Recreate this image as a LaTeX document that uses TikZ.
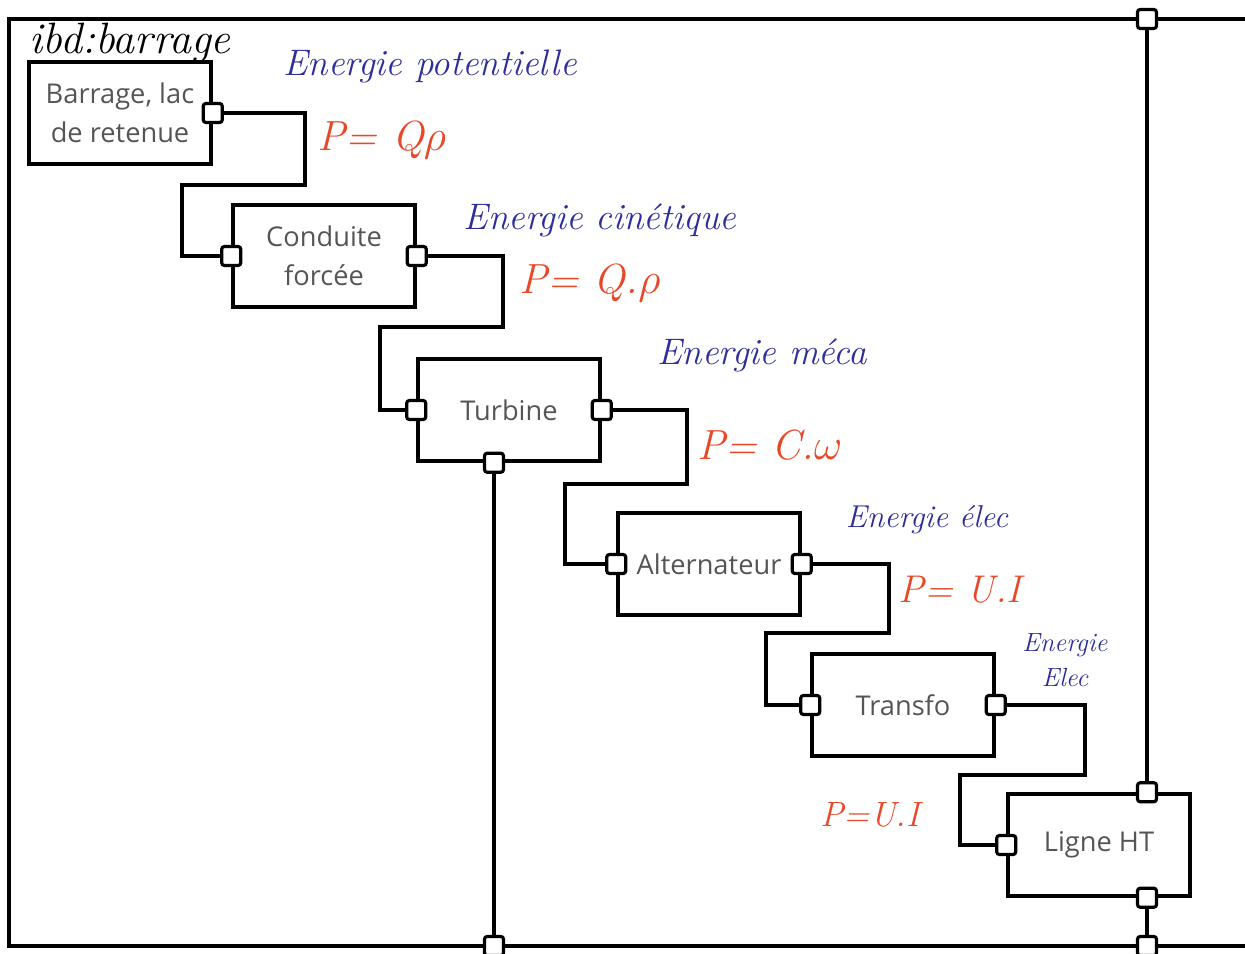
\documentclass[tikz,border=0pt]{standalone}
\usepackage{fontspec}
\setsansfont{Open Sans}
\usetikzlibrary{positioning,calc}
\definecolor{penblue}{RGB}{45,45,155}
\definecolor{penred}{RGB}{232,72,40}
\definecolor{blocktext}{RGB}{85,85,85}

\begin{document}
\begin{tikzpicture}[x=0.02cm,y=-0.02cm,
    block/.style={rectangle,draw,line width=2pt,minimum width=3.64cm,minimum height=2.04cm,align=center,text=blocktext,font=\sffamily\fontsize{15.5}{22}\selectfont,inner sep=0pt},
    port/.style={rectangle,draw,line width=1.8pt,fill=white,minimum size=0.38cm,inner sep=0pt,rounded corners=1.5pt},
    link/.style={line width=2pt},
    hand/.style={font=\itshape\fontsize{21}{24}\selectfont},
    energy/.style={hand,text=penblue},
    power/.style={hand,text=penred,font=\itshape\fontsize{24}{28}\selectfont}
]
\useasboundingbox (0,0) rectangle (1245,954);

% Frame of the ibd
\draw[link] (1245,19) -- (9,19) -- (9,946) -- (1245,946);
\node[hand,font=\itshape\fontsize{25}{28}\selectfont] (title) at (130,43) {ibd:barrage};

% Blocks
\node[block] (barrage) at (120,113) {Barrage, lac\\de retenue};
\node[block] (conduite) at (324,256) {Conduite\\forcée};
\node[block] (turbine) at (509,410) {Turbine};
\node[block] (alternateur) at (709,564) {Alternateur};
\node[block] (transfo) at (903,705) {Transfo};
\node[block] (ligne) at (1099,845) {Ligne HT};

% Ports
\node[port] (barrage-out) at (barrage.east) {};
\node[port] (conduite-in) at (conduite.west) {};
\node[port] (conduite-out) at (conduite.east) {};
\node[port] (turbine-in) at (turbine.west) {};
\node[port] (turbine-out) at (turbine.east) {};
\node[port] (turbine-shaft) at ($(turbine.south)+(-15,0)$) {};
\node[port] (alternateur-in) at (alternateur.west) {};
\node[port] (alternateur-out) at (alternateur.east) {};
\node[port] (transfo-in) at (transfo.west) {};
\node[port] (transfo-out) at (transfo.east) {};
\node[port] (ligne-in) at (ligne.west) {};
\node[port] (ligne-top) at ($(ligne.north)+(48,0)$) {};
\node[port] (ligne-bottom) at ($(ligne.south)+(48,0)$) {};
\node[port] (frame-top) at (1147,19) {};
\node[port] (frame-shaft) at (494,946) {};
\node[port] (frame-bottom) at (1147,946) {};

% Energy chain
\draw[link] (barrage-out) -| (305,185) -| (182,256) -- (conduite-in);
\draw[link] (conduite-out) -| (503,327) -| (380,410) -- (turbine-in);
\draw[link] (turbine-out) -| (687,484) -| (565,564) -- (alternateur-in);
\draw[link] (alternateur-out) -| (889,633) -| (766,705) -- (transfo-in);
\draw[link] (transfo-out) -| (1085,775) -| (960,845) -- (ligne-in);

% Links to the frame
\draw[link] (turbine-shaft) -- (frame-shaft);
\draw[link] (ligne-top) -- (frame-top);
\draw[link] (ligne-bottom) -- (frame-bottom);

% Notes
\node[energy] (e1) at (430,66) {Energie potentielle};
\node[power] (p1) at (382,140) {P= Q$\rho$};
\node[energy] (e2) at (600,220) {Energie cinétique};
\node[power] (p2) at (590,283) {P= Q.$\rho$};
\node[energy] (e3) at (762,355) {Energie méca};
\node[power] (p3) at (770,445) {P= C.$\omega$};
\node[energy,font=\itshape\fontsize{18}{22}\selectfont] (e4) at (927,520) {Energie élec};
\node[power,font=\itshape\fontsize{22}{26}\selectfont] (p4) at (960,590) {P= U.I};
\node[energy,align=center,font=\itshape\fontsize{15}{20}\selectfont] (e5) at (1065,660) {Energie\\Elec};
\node[power,font=\itshape\fontsize{20}{24}\selectfont] (p5) at (870,815) {P=U.I};

\end{tikzpicture}
\end{document}
